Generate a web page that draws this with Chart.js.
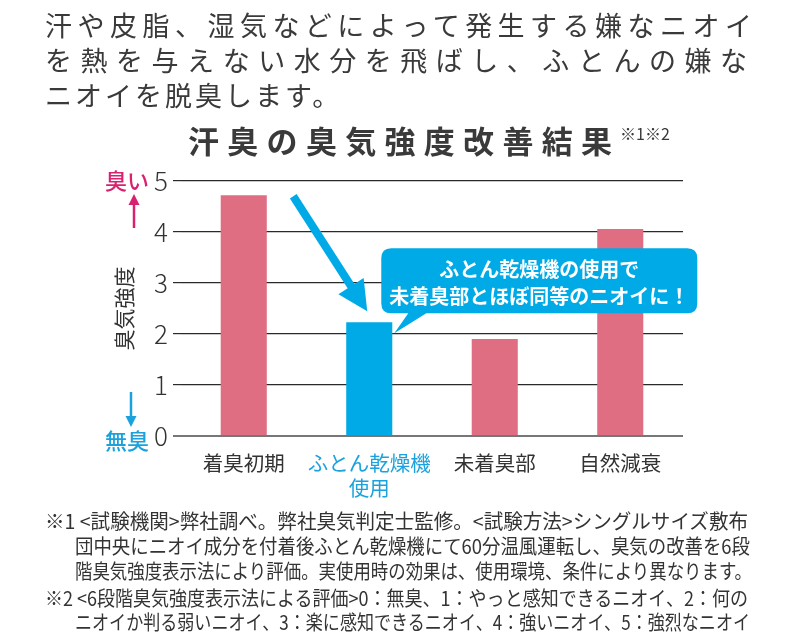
<!DOCTYPE html>
<html><head><meta charset="utf-8">
<script src="https://cdn.jsdelivr.net/npm/chart.js@4.4.0/dist/chart.umd.min.js"></script>
<style>
html,body{margin:0;padding:0;background:#fff;}
body{width:800px;height:640px;position:relative;overflow:hidden;font-family:"Noto Sans CJK JP","Noto Sans",sans-serif;color:#333;}
#chartWrap{position:absolute;left:0;top:0;width:800px;height:640px;}
.ln{position:absolute;white-space:nowrap;line-height:34px;}
.head{font-size:27px;font-weight:400;color:#3a3a3a;}
.note{font-size:20px;line-height:24px;color:#333;transform-origin:0 50%;}
#title{font-size:31px;font-weight:700;color:#3a3a3a;}
#sup{font-size:16px;color:#3a3a3a;}
</style></head><body>
<div id="chartWrap"><canvas id="c" width="800" height="640"></canvas></div>
<div class="ln head" id="h1" style="left:45px;top:8px;">汗や皮脂、湿気などによって発生する嫌なニオイ</div>
<div class="ln head" id="h2" style="left:45px;top:43px;">を熱を与えない水分を飛ばし、ふとんの嫌な</div>
<div class="ln head" id="h3" style="left:45px;top:78px;letter-spacing:3px;">ニオイを脱臭します。</div>
<div class="ln" id="title" style="left:188px;top:123px;">汗臭の臭気強度改善結果</div>
<div class="ln" id="sup" style="left:620px;top:116px;">※1※2</div>
<div class="ln note" id="n1" style="left:45px;top:509px;">※1 &lt;試験機関&gt;弊社調べ。弊社臭気判定士監修。&lt;試験方法&gt;シングルサイズ敷布</div>
<div class="ln note" id="n2" style="left:75px;top:534px;">団中央にニオイ成分を付着後ふとん乾燥機にて60分温風運転し、臭気の改善を6段</div>
<div class="ln note" id="n3" style="left:75px;top:559px;">階臭気強度表示法により評価。実使用時の効果は、使用環境、条件により異なります。</div>
<div class="ln note" id="n4" style="left:45px;top:586px;">※2 &lt;6段階臭気強度表示法による評価&gt;0：無臭、1：やっと感知できるニオイ、2：何の</div>
<div class="ln note" id="n5" style="left:75px;top:610px;">ニオイか判る弱いニオイ、3：楽に感知できるニオイ、4：強いニオイ、5：強烈なニオイ</div>
<script>
// ---- data ----
const categories = [['着臭初期'], ['ふとん乾燥機', '使用'], ['未着臭部'], ['自然減衰']];
const odorIntensity = [4.72, 2.23, 1.90, 4.06];
const yTickValues = [0, 1, 2, 3, 4, 5];
const yAxisTitle = '臭気強度';
const endLabels = ['臭い', '無臭'];
const calloutLines = ['ふとん乾燥機の使用で', '未着臭部とほぼ同等のニオイに！'];
const highlightIndex = 1;

// ---- styles ----
const PINK = '#df6e83', BLUE = '#00aae6', TXT = '#333333';
const PINK_TXT = '#d8216f', BLUE_TXT = '#1ba2dd';
const FONT = '"Noto Sans CJK JP","Noto Sans",sans-serif';

function arrowHead(ctx, x, y, dir, w, h) {
  ctx.beginPath();
  ctx.moveTo(x, y);
  ctx.lineTo(x - w / 2, y - dir * h);
  ctx.lineTo(x + w / 2, y - dir * h);
  ctx.closePath();
  ctx.fill();
}

const annot = {
  id: 'annot',
  afterDatasetsDraw(chart) {
    const ctx = chart.ctx;
    const xs = chart.scales.x, ys = chart.scales.y;
    const top = ys.getPixelForValue(yTickValues[yTickValues.length - 1]);
    const zero = ys.getPixelForValue(yTickValues[0]);
    ctx.save();
    // end labels + arrows
    ctx.font = '500 22px ' + FONT;
    ctx.textAlign = 'center';
    ctx.textBaseline = 'middle';
    ctx.fillStyle = PINK_TXT;
    ctx.fillText(endLabels[0], 127, top);
    ctx.strokeStyle = PINK_TXT; ctx.lineWidth = 2.5;
    ctx.beginPath(); ctx.moveTo(134, top + 47); ctx.lineTo(134, top + 22); ctx.stroke();
    arrowHead(ctx, 134, top + 13, -1, 11, 11);
    ctx.fillStyle = BLUE_TXT; ctx.strokeStyle = BLUE_TXT;
    ctx.fillText(endLabels[1], 127, zero + 5);
    ctx.beginPath(); ctx.moveTo(131, zero - 44); ctx.lineTo(131, zero - 18); ctx.stroke();
    arrowHead(ctx, 131, zero - 9, 1, 11, 11);

    // big arrow to highlighted bar
    const bx = xs.getPixelForValue(highlightIndex);
    const by = ys.getPixelForValue(odorIntensity[highlightIndex]);
    const tipX = bx - 2, tipY = by - 11;
    const sx = tipX - 74, sy = tipY - 115;
    const ang = Math.atan2(tipY - sy, tipX - sx);
    const headL = 30, headW = 30;
    const baseX = tipX - Math.cos(ang) * headL, baseY = tipY - Math.sin(ang) * headL;
    ctx.fillStyle = BLUE; ctx.strokeStyle = BLUE;
    ctx.lineWidth = 8; ctx.lineCap = 'butt';
    ctx.beginPath(); ctx.moveTo(sx, sy); ctx.lineTo(baseX + Math.cos(ang) * 2, baseY + Math.sin(ang) * 2); ctx.stroke();
    ctx.beginPath();
    ctx.moveTo(tipX, tipY);
    ctx.lineTo(baseX + Math.sin(ang) * headW / 2, baseY - Math.cos(ang) * headW / 2);
    ctx.lineTo(baseX - Math.sin(ang) * headW / 2, baseY + Math.cos(ang) * headW / 2);
    ctx.closePath(); ctx.fill();

    // callout
    const meta = chart.getDatasetMeta(0).data[highlightIndex];
    const tailX = meta.x + meta.width / 2 + 2, tailY = by + 11;
    const bxL = tailX - 13, bxT = tailY - 85, bw = 316, bh = 65, r = 10;
    ctx.beginPath();
    ctx.moveTo(bxL + r, bxT);
    ctx.lineTo(bxL + bw - r, bxT); ctx.quadraticCurveTo(bxL + bw, bxT, bxL + bw, bxT + r);
    ctx.lineTo(bxL + bw, bxT + bh - r); ctx.quadraticCurveTo(bxL + bw, bxT + bh, bxL + bw - r, bxT + bh);
    ctx.lineTo(tailX + 32, bxT + bh);
    ctx.lineTo(tailX, tailY);
    ctx.lineTo(tailX + 14, bxT + bh);
    ctx.lineTo(bxL + r, bxT + bh); ctx.quadraticCurveTo(bxL, bxT + bh, bxL, bxT + bh - r);
    ctx.lineTo(bxL, bxT + r); ctx.quadraticCurveTo(bxL, bxT, bxL + r, bxT);
    ctx.closePath(); ctx.fill();
    ctx.fillStyle = '#ffffff';
    ctx.font = 'bold 20px ' + FONT;
    ctx.fillText(calloutLines[0], bxL + bw / 2, bxT + 21);
    ctx.fillText(calloutLines[1], bxL + bw / 2, bxT + 48);
    ctx.restore();
  }
};

new Chart(document.getElementById('c'), {
  type: 'bar',
  data: {
    labels: categories,
    datasets: [{
      data: odorIntensity,
      backgroundColor: odorIntensity.map((v, i) => i === highlightIndex ? BLUE : PINK),
      barPercentage: 0.367,
      categoryPercentage: 1
    }]
  },
  options: {
    responsive: false,
    animation: false,
    layout: { padding: { left: 100, right: 117, top: 181, bottom: 0 } },
    plugins: { legend: { display: false }, tooltip: { enabled: false }, title: { display: false } },
    scales: {
      x: {
        grid: { display: false },
        border: { display: false },
        ticks: {
          font: { family: FONT, size: 20.5 },
          color: (c) => c.index === highlightIndex ? BLUE_TXT : TXT,
          padding: 7,
          maxRotation: 0,
          autoSkip: false
        },
        afterFit(s) { s.height = 204; }
      },
      y: {
        min: yTickValues[0], max: yTickValues[yTickValues.length - 1],
        afterBuildTicks(s) { s.ticks = yTickValues.map(v => ({ value: v })); },
        border: { display: false },
        grid: {
          color: (c) => c.tick && c.tick.value === 0 ? '#777777' : '#2a2a2a',
          lineWidth: (c) => c.tick && c.tick.value === 0 ? 2 : 1.2,
          drawTicks: true, tickLength: 8
        },
        ticks: { font: { family: FONT, size: 26, weight: 300 }, color: TXT, padding: 5 },
        title: { display: true, text: yAxisTitle, font: { family: FONT, size: 21 }, color: TXT, padding: { top: 11, bottom: 0 } },
        afterFit(s) { s.width = 81; }
      }
    }
  },
  plugins: [annot]
});

// ---- text fitting ----
function fitSpacing(id, target) {
  const el = document.getElementById(id);
  el.style.letterSpacing = '0px';
  const w = el.getBoundingClientRect().width;
  const n = el.textContent.length;
  el.style.letterSpacing = ((target - w) / (n - 1)) + 'px';
}
function fitScale(id, target) {
  const el = document.getElementById(id);
  const w = el.getBoundingClientRect().width;
  el.style.transform = 'scaleX(' + (target / w) + ')';
}
fitSpacing('h1', 707);
fitSpacing('h2', 702);
fitSpacing('title', 424);
fitScale('n1', 703);
fitScale('n2', 675);
fitScale('n3', 677);
fitScale('n4', 703);
fitScale('n5', 675);
</script>
</body></html>
